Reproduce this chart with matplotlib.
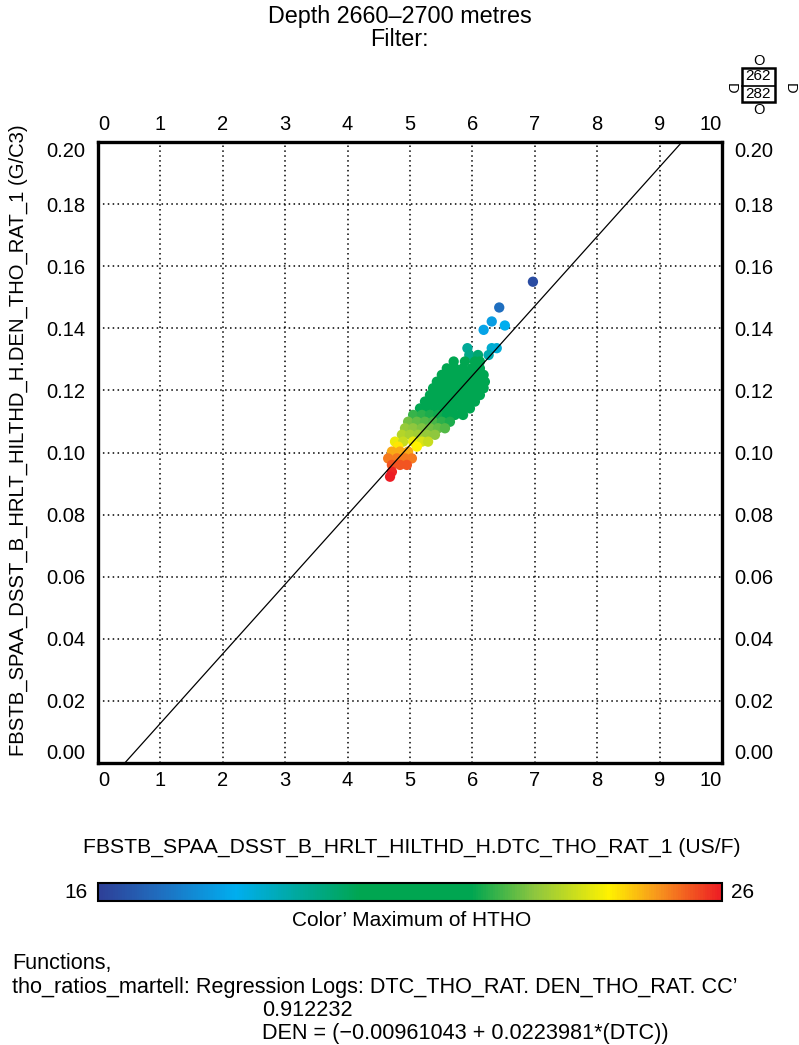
import numpy as np
import matplotlib
matplotlib.use("Agg")
import matplotlib.pyplot as plt
from matplotlib.colors import LinearSegmentedColormap, Normalize
from matplotlib.patches import Rectangle
from matplotlib.lines import Line2D

# data (rows of the point cloud, top to bottom)
dtc = [6.97, 6.43, 6.31, 6.52, 6.18,
       5.92, 6.31, 6.39,
       5.95, 6.09, 6.26,
       5.70, 5.88, 6.04, 6.12,
       5.59, 5.72, 5.85, 5.99, 6.12,
       5.51, 5.64, 5.77, 5.91, 6.04, 6.18,
       5.43, 5.56, 5.69, 5.83, 5.96, 6.09, 6.20,
       5.37, 5.51, 5.64, 5.77, 5.91, 6.04, 6.18,
       5.32, 5.45, 5.59, 5.72, 5.85, 5.99, 6.12,
       5.24, 5.37, 5.51, 5.64, 5.77, 5.91, 6.04,
       5.16, 5.29, 5.43, 5.56, 5.69, 5.83, 5.96,
       5.05, 5.19, 5.32, 5.45, 5.59, 5.72, 5.85,
       4.97, 5.11, 5.24, 5.37, 5.51, 5.64,
       4.92, 5.05, 5.19, 5.32, 5.45, 5.56,
       4.87, 5.00, 5.13, 5.27, 5.40,
       4.76, 4.89, 5.05, 5.19, 5.29,
       4.81, 5.11,
       4.71, 4.84, 4.97,
       4.65, 4.79, 4.92, 5.03,
       4.71, 4.84, 4.95,
       4.71, 4.68]
den = [0.1550, 0.1467, 0.1422, 0.1409, 0.1395,
       0.1336, 0.1336, 0.1336,
       0.1314, 0.1314, 0.1314,
       0.1293, 0.1293, 0.1293, 0.1293,
       0.1271, 0.1271, 0.1271, 0.1271, 0.1271,
       0.1250, 0.1250, 0.1250, 0.1250, 0.1250, 0.1250,
       0.1228, 0.1228, 0.1228, 0.1228, 0.1228, 0.1228, 0.1228,
       0.1207, 0.1207, 0.1207, 0.1207, 0.1207, 0.1207, 0.1207,
       0.1185, 0.1185, 0.1185, 0.1185, 0.1185, 0.1185, 0.1185,
       0.1164, 0.1164, 0.1164, 0.1164, 0.1164, 0.1164, 0.1164,
       0.1142, 0.1142, 0.1142, 0.1142, 0.1142, 0.1142, 0.1142,
       0.1121, 0.1121, 0.1121, 0.1121, 0.1121, 0.1121, 0.1121,
       0.1099, 0.1099, 0.1099, 0.1099, 0.1099, 0.1099,
       0.1078, 0.1078, 0.1078, 0.1078, 0.1078, 0.1078,
       0.1057, 0.1057, 0.1057, 0.1057, 0.1057,
       0.1035, 0.1035, 0.1035, 0.1035, 0.1035,
       0.1019, 0.1019,
       0.1003, 0.1003, 0.1003,
       0.0981, 0.0981, 0.0981, 0.0981,
       0.0960, 0.0960, 0.0960,
       0.0938, 0.0922]
htho = [16.3, 17.0, 17.9, 18.2, 18.0,
        19.3, 18.6, 18.5,
        19.5, 19.8, 19.0,
        20.5, 20.6, 20.6, 20.4,
        21.0, 21.0, 21.0, 20.9, 20.8,
        21.0, 21.0, 21.0, 21.0, 21.0, 21.0,
        21.1, 21.1, 21.1, 21.1, 21.1, 21.1, 21.1,
        21.1, 21.1, 21.1, 21.1, 21.1, 21.1, 21.1,
        21.2, 21.2, 21.2, 21.2, 21.2, 21.2, 21.2,
        21.4, 21.4, 21.4, 21.4, 21.4, 21.4, 21.4,
        21.7, 21.7, 21.7, 21.7, 21.7, 21.7, 21.7,
        22.4, 22.3, 22.2, 22.1, 22.0, 21.9, 21.8,
        22.8, 22.7, 22.6, 22.5, 22.3, 22.2,
        23.1, 23.0, 22.9, 22.8, 22.7, 22.6,
        23.4, 23.3, 23.2, 23.1, 23.0,
        24.0, 23.6, 24.0, 23.8, 23.6,
        24.3, 24.2,
        24.8, 24.8, 24.8,
        25.2, 25.2, 25.2, 25.2,
        25.5, 25.5, 25.5,
        25.9, 26.0]

intercept = -0.00961043
slope = 0.0223981
cc = 0.912232
cmin, cmax = 16, 26

xticks = list(range(0, 11))
yticks = [0.00, 0.02, 0.04, 0.06, 0.08, 0.10, 0.12, 0.14, 0.16, 0.18, 0.20]

plain = ['Liberation Sans', 'DejaVu Sans']
plt.rcParams['font.family'] = plain

cmap = LinearSegmentedColormap.from_list("htho", [
    (0.00, "#2e3f97"), (0.10, "#1f6fc0"), (0.22, "#00aeef"), (0.32, "#00a99d"),
    (0.42, "#00a651"), (0.60, "#00a651"), (0.70, "#8dc63f"), (0.82, "#fff200"),
    (0.90, "#f7941d"), (1.00, "#ed1c24")])
norm = Normalize(cmin, cmax)

fig = plt.figure(figsize=(7.99, 10.45), dpi=100)
ax = fig.add_axes([98/799, 1-763/1045, 624/799, 621/1045])

ax.scatter(dtc, den, c=htho, cmap=cmap, norm=norm, s=55, marker='o', linewidths=0, zorder=3)
xs = np.array([0, 10])
ax.plot(xs, intercept + slope*xs, color='black', lw=0.9, zorder=4)

ax.set_xlim(0, 10)
ax.set_ylim(0, 0.2)
ax.set_xticks(xticks)
ax.set_yticks(yticks)
ax.set_yticklabels(["%.2f" % v for v in yticks])
ax.grid(True, color='black', linestyle=(0, (1, 2.2)), lw=1.1)
ax.tick_params(length=0, labelsize=14.5, top=True, labeltop=True, right=True, labelright=True)
ax.tick_params(axis='x', pad=6)
ax.tick_params(axis='y', pad=9)
for s in ax.spines.values():
    s.set_linewidth(2.4)

xt = ax.xaxis.get_major_ticks()
xt[0].label1.set_horizontalalignment('left')
xt[0].label2.set_horizontalalignment('left')
xt[-1].label1.set_horizontalalignment('right')
xt[-1].label2.set_horizontalalignment('right')
yt = ax.yaxis.get_major_ticks()
yt[0].label1.set_verticalalignment('bottom')
yt[0].label2.set_verticalalignment('bottom')
yt[-1].label1.set_verticalalignment('top')
yt[-1].label2.set_verticalalignment('top')

fig.text(18/799, 1-440/1045, "FBSTB_SPAA_DSST_B_HRLT_HILTHD_H.DEN_THO_RAT_1 (G/C3)",
         rotation=90, ha='center', va='center', fontsize=14.6)
fig.text(412/799, 1-847/1045, "FBSTB_SPAA_DSST_B_HRLT_HILTHD_H.DTC_THO_RAT_1 (US/F)",
         ha='center', va='center', fontsize=15.2)

# title
fig.text(0.5, 1-17/1045, "Depth 2660\u20132700 metres", ha='center', va='center', fontsize=16.8)
fig.text(0.5, 1-40/1045, "Filter:", ha='center', va='center', fontsize=16.8)

# colour bar
cax = fig.add_axes([98/799, 1-901/1045, 624/799, 18/1045])
sm = plt.cm.ScalarMappable(norm=norm, cmap=cmap)
cb = fig.colorbar(sm, cax=cax, orientation='horizontal')
cb.set_ticks([])
cb.outline.set_linewidth(1.5)
fig.text(88/799, 1-892/1045, str(cmin), ha='right', va='center', fontsize=15)
fig.text(731/799, 1-892/1045, str(cmax), ha='left', va='center', fontsize=15)
fig.text(412/799, 1-921/1045, "Color\u2019 Maximum of HTHO", ha='center', va='center', fontsize=15)

# functions text
fig.text(12/799, 1-963/1045, "Functions,", ha='left', va='center', fontsize=15.6)
fig.text(12/799, 1-987/1045, "tho_ratios_martell: Regression Logs: DTC_THO_RAT. DEN_THO_RAT. CC\u2019",
         ha='left', va='center', fontsize=15.6)
fig.text(262/799, 1-1010/1045, "%.6f" % cc, ha='left', va='center', fontsize=15.6)
fig.text(262/799, 1-1033/1045, "DEN = (\u2212%.8f + %.7f*(DTC))" % (-intercept, slope),
         ha='left', va='center', fontsize=15.6)

# little well marker icon at top right
fig.patches.append(Rectangle((742/799, 1-102/1045), 33/799, 34/1045, transform=fig.transFigure,
                             fill=False, lw=1.8, edgecolor='black'))
fig.lines.append(Line2D([742/799, 775/799], [1-85.5/1045, 1-85.5/1045], transform=fig.transFigure,
                        color='black', lw=1.2))
fig.text(758.5/799, 1-76.5/1045, "262", ha='center', va='center', fontsize=11)
fig.text(758.5/799, 1-94/1045, "282", ha='center', va='center', fontsize=11)
fig.text(759/799, 1-61/1045, "O", ha='center', va='center', fontsize=10.5)
fig.text(759/799, 1-110/1045, "O", ha='center', va='center', fontsize=10.5)
fig.text(731/799, 1-88/1045, "D", ha='center', va='center', fontsize=10.5, rotation=-90)
fig.text(790/799, 1-88/1045, "D", ha='center', va='center', fontsize=10.5, rotation=-90)

fig.savefig("out.png", dpi=100)
